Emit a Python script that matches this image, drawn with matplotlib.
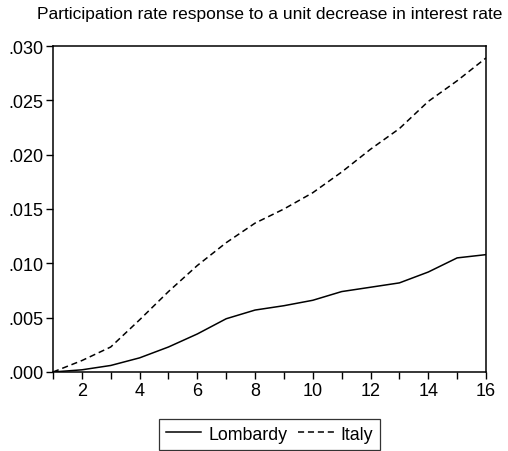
import numpy as np
import matplotlib
matplotlib.use('Agg')
import matplotlib.pyplot as plt
from matplotlib.ticker import FuncFormatter, MultipleLocator

plt.rcParams['font.family'] = ['Liberation Sans', 'DejaVu Sans']

# 脉冲响应
periods = np.arange(1, 17)
lombardy = [0.0, 0.0002, 0.0006, 0.0013, 0.0023, 0.0035, 0.0049, 0.0057,
            0.0061, 0.0066, 0.0074, 0.0078, 0.0082, 0.0092, 0.0105, 0.0108]
italy = [0.0, 0.00105, 0.0023, 0.0048, 0.0074, 0.0098, 0.0119, 0.0137,
         0.0150, 0.0165, 0.0184, 0.0205, 0.0224, 0.0249, 0.0268, 0.0289]
title = 'Participation rate response to a unit decrease in interest rate'

fig = plt.figure(figsize=(5.08, 4.52), dpi=100)
ax = fig.add_axes([0.1043, 0.1748, 0.8524, 0.7212])

ax.plot(periods, lombardy, color='black', lw=1.1, label='Lombardy')
ax.plot(periods, italy, color='black', lw=1.1, ls=(0, (4, 2.5)), label='Italy')

ax.set_xlim(1, 16)
ax.set_ylim(0, 0.030)
ax.xaxis.set_major_locator(MultipleLocator(1))
ax.xaxis.set_major_formatter(FuncFormatter(lambda v, p: f'{int(v)}' if int(v) % 2 == 0 else ''))
ax.yaxis.set_major_locator(MultipleLocator(0.005))
ax.yaxis.set_major_formatter(FuncFormatter(lambda v, p: f'{v:.3f}'.lstrip('0')))
ax.tick_params(axis='both', direction='out', length=5, width=1, labelsize=13, pad=2)
for s in ax.spines.values():
    s.set_linewidth(1.1)

fig.text(0.531, 0.968, title, ha='center', va='center', fontsize=12.5)

leg = ax.legend(loc='upper center', bbox_to_anchor=(0.5, -0.143), ncol=2, frameon=True,
                fancybox=False, edgecolor='black', fontsize=12.8, handlelength=2.0,
                columnspacing=0.6, handletextpad=0.4, borderpad=0.4,
                borderaxespad=0)
leg.get_frame().set_linewidth(0.9)

fig.savefig('out.png', dpi=100)
